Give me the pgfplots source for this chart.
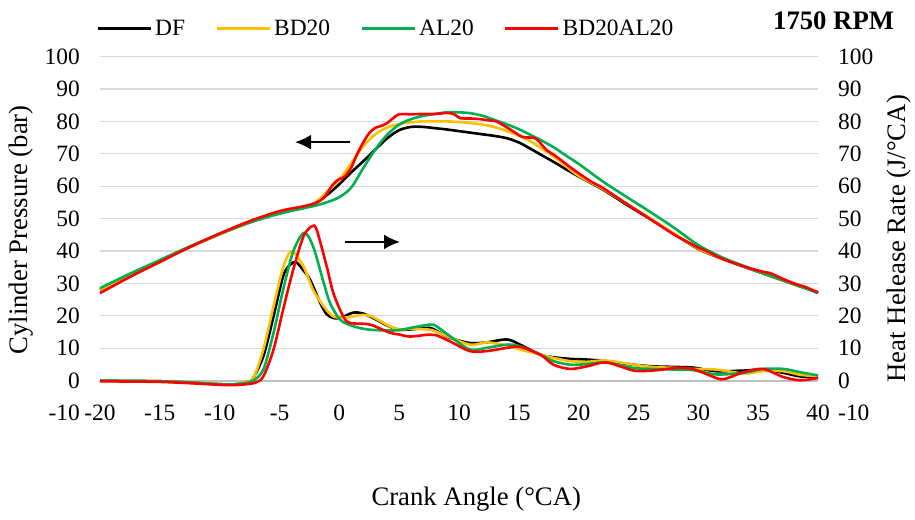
\documentclass[border=0pt]{standalone}
\usepackage{pgfplots}
\pgfplotsset{compat=1.18}
\usepackage{fontspec}
\setmainfont{Liberation Serif}
\usetikzlibrary{arrows.meta}
\definecolor{cDF}{RGB}{0,0,0}
\definecolor{cBD}{RGB}{255,192,0}
\definecolor{cAL}{RGB}{0,176,80}
\definecolor{cBA}{RGB}{255,0,0}
\definecolor{gridc}{RGB}{217,217,217}
\definecolor{zeroc}{RGB}{191,191,191}
\pgfplotsset{
 common/.style={
  at={(0,0)}, anchor=south west,
  x=11.967bp, y=3.24bp,
  xmin=-20, xmax=40, ymin=-10, ymax=100,
  enlargelimits=false,
  axis line style={draw=none},
  tick style={draw=none},
  /pgf/number format/assume math mode=true,
  tick label style={font=\fontsize{23.5}{28}\selectfont},
  clip=false,
 }
}
\begin{document}
\begin{tikzpicture}
\useasboundingbox (-100bp,-107bp) rectangle (815bp,413bp);
\begin{axis}[common,
 xtick={-20,-15,...,40},
 ytick={-10,0,...,100},
 xticklabel style={anchor=center, inner sep=0pt},
 yticklabel style={anchor=east, inner sep=0pt, xshift=-20bp},
 ytick pos=left, xtick pos=bottom,
 extra y ticks={10,20,...,100},
 extra y tick labels={},
 extra y tick style={grid=major},
 major grid style={gridc, line width=1.3bp},
 xlabel={Crank Angle (°CA)},
 ylabel={Cylinder Pressure (bar)},
 every axis x label/.style={at={(rel axis cs:0.524,0)}, anchor=center, yshift=-86bp, font=\fontsize{26.8}{32}\selectfont},
 every axis y label/.style={at={(rel axis cs:-0.110,0.514)}, rotate=90, anchor=center, font=\fontsize{26.8}{32}\selectfont},
 legend columns=4,
 legend style={at={(axis cs:-20.33,108.6)}, anchor=west, draw=none, fill=none, inner sep=0pt,
   font=\fontsize{23.5}{28}\selectfont,
   /tikz/every odd column/.append style={column sep=2bp},
   /tikz/every even column/.append style={column sep=29bp},
   nodes={inner sep=1bp}},
 legend image code/.code={\draw[#1, line width=3bp] (0bp,0bp) -- (53bp,0bp);},
]
\draw[zeroc, line width=1.8bp] (axis cs:-20,0) -- (axis cs:40,0);
% Cylinder pressure
\addplot[cDF, line width=2.6bp, smooth] coordinates {
(-20,28) (-17.5,32.5) (-15,36.9) (-12.5,41.2) (-10,45.2) (-7.5,48.8) (-5,51.8) (-3,53.3) (-2,54.8)
(-1,57.4) (0,60.6) (1,64.3) (2,67.7) (3,71.3) (4,74.8) (5,77.3) (6,78.3) (7,78.3) (8,77.9) (9,77.5)
(10,77.0) (11,76.5) (12,76.0) (13,75.5) (14,74.8) (15,73.5) (16,71.5) (17,69.4) (18,67.3) (19,65.1)
(20,63.0) (22,59.0) (24,54.3) (26,49.8) (28,45.2) (30,40.6) (32,37.6) (34,34.9) (36,32.3) (38,29.7) (40,27.2)};
\addlegendentry{DF}
\addplot[cBD, line width=2.6bp, smooth] coordinates {
(-20,28) (-17.5,32.5) (-15,36.9) (-12.5,41.2) (-10,45.2) (-7.5,48.8) (-5,51.8) (-3,53.4) (-2,55.0)
(-1,58.4) (0,62.0) (1,67.1) (2,72.3) (3,76.0) (4,78.1) (5,79.2) (6,79.7) (7,80.0) (8,80.0) (9,80.0)
(10,79.8) (11,79.5) (12,79.0) (13,78.2) (14,77.0) (15,75.6) (16,73.8) (17,71.4) (18,68.9) (19,66.0)
(20,63.2) (22,59.2) (24,54.6) (26,50.0) (28,45.3) (30,40.7) (32,37.7) (34,35.0) (36,32.4) (38,29.8) (40,27.2)};
\addlegendentry{BD20}
\addplot[cAL, line width=2.6bp, smooth] coordinates {
(-20,28.5) (-17.5,33) (-15,37.2) (-12.5,41.4) (-10,45.3) (-7.5,48.8) (-5,51.5) (-3,53.2) (-2,54.0)
(-1,55.1) (0,56.6) (1,59.6) (2,65.6) (3,71.3) (4,75.9) (5,79.0) (6,80.7) (7,81.7) (8,82.3) (9,82.8)
(10,82.8) (11,82.5) (12,81.7) (13,80.4) (14,79.1) (15,77.6) (16,75.8) (17,73.9) (18,71.8) (19,69.3)
(20,66.9) (22,61.5) (24,56.7) (26,52.0) (28,47.1) (30,41.8) (32,38.0) (34,35.1) (36,32.4) (38,29.8) (40,27.0)};
\addlegendentry{AL20}
\addplot[cBA, line width=2.6bp, smooth] coordinates {
(-20,27) (-17.5,32) (-15,36.6) (-12.5,41.2) (-10,45.4) (-7.5,49.2) (-5,52.3) (-3,53.8) (-2,54.8)
(-1.3,56.4) (-0.6,60.2) (-0.1,62.0) (0.3,62.6) (0.6,63.6) (1,65.8) (1.5,70) (2,73.5) (2.5,76.4) (3,78)
(3.5,78.6) (4,79.5) (4.5,81) (5,82.2) (6,82.2) (7,82.3) (8,82.3) (9,82.6) (9.6,82.2) (10.1,81.0) (11,80.9)
(11.75,80.7) (12.5,80.3) (13.1,80.0) (13.8,78.6) (14.5,77.0) (15.3,75.2) (16,75.0) (16.5,74.5) (17.3,71.2)
(18,69.5) (19.5,65.3) (21,61.5) (22,59.5) (24,54.6) (26,49.8) (28,45.0) (29,43.0) (30,41.0) (30.5,40.3)
(32,37.6) (34,35.0) (35.5,33.5) (36,33.2) (37,31.5) (38,30.0) (39,28.8) (40,27.2)};
\addlegendentry{BD20AL20}
% Heat release rate
\addplot[cDF, line width=2.6bp, smooth, forget plot] coordinates {
(-20,0) (-17.5,-0.1) (-15,-0.2) (-12.5,-0.6) (-10,-1.1) (-9,-1.2) (-8,-0.8) (-7.3,0.3) (-6.35,7.5)
(-5.5,19.8) (-4.7,32.2) (-4.1,35.8) (-3.6,36.5) (-3,34) (-2.45,31.2) (-1.6,24) (-1.06,20.5) (-0.5,19.3)
(0,19.3) (0.5,20) (1.2,21) (2,20.7) (3.1,18.8) (4,17) (5,15.7) (6,15.8) (7.5,16.3) (8.3,15.0) (9.25,13.2)
(10.9,11.6) (12.3,11.8) (14,12.7) (15.1,11.1) (16.8,8) (17.9,7.2) (19.3,6.7) (20.7,6.5) (22.3,6) (24.6,4.9)
(26.2,4.4) (28.2,4.2) (29.6,4.0) (31.5,2.9) (33.8,3.1) (35.4,3.4) (37.1,2.4) (38.5,1.3) (40,1.2)};
\addplot[cBD, line width=2.6bp, smooth, forget plot] coordinates {
(-20,0) (-17.5,-0.1) (-15,-0.2) (-12.5,-0.6) (-10,-1.1) (-9,-1.2) (-8,-0.6) (-7.2,0.8) (-6.35,9.6)
(-5.5,22.9) (-4.7,34.8) (-4,39.9) (-3,35.3) (-2.2,28) (-1.3,22.9) (-0.5,19.8) (0.6,19.5) (2,20.3)
(2.8,19.6) (4.2,16.8) (5.07,15.7) (6,16) (7.58,15.7) (8.5,14.5) (10.9,11.1) (12.3,11.8) (14,10.8)
(15.1,9.6) (16.8,8) (17.9,7) (19.3,6) (20.7,5.8) (22.3,6.2) (24.6,4.9) (26.2,4.2) (28.2,3.9) (29.6,3.6)
(31.5,3.4) (33.8,2.2) (35.4,2.9) (37.1,2.9) (38.5,1.8) (40,1.3)};
\addplot[cAL, line width=2.6bp, smooth, forget plot] coordinates {
(-20,0) (-17.5,-0.1) (-15,-0.2) (-12.5,-0.6) (-10,-1.1) (-9,-1.2) (-8,-0.8) (-7.2,0) (-6.35,3.4)
(-5.5,14.7) (-4.7,28) (-3.85,39.9) (-2.95,45.6) (-2.2,41.5) (-1.3,30.1) (-0.78,24) (0.06,18.8) (1.15,16.8)
(2.55,15.7) (4.8,15.5) (6,16.3) (7.58,17.3) (8.1,16.8) (9.25,13.7) (10.9,9.6) (12.3,10.1) (14,11.1)
(15.1,10.6) (16.8,8) (17.9,6) (19.3,4.9) (20.7,5.1) (22.3,5.6) (24.6,3.9) (26.2,3.6) (28.2,3.4) (29.6,3.2)
(31.5,1.9) (33.8,2.4) (35.4,3.6) (37.1,3.6) (38.5,2.6) (40,1.6)};
\addplot[cBA, line width=2.6bp, smooth, forget plot] coordinates {
(-20,-0.2) (-17.5,-0.3) (-15,-0.4) (-12.5,-0.8) (-10,-1.3) (-9,-1.4) (-8,-1.2) (-7,-0.6) (-6.35,1.3)
(-5.5,9.6) (-4.7,21.9) (-3.85,34.3) (-3.0,44.5) (-2.3,47.6) (-1.9,46.6) (-1.06,35.3) (-0.5,27) (0.33,19.8)
(0.9,17.8) (2.55,17.3) (4.2,14.8) (5.07,14.2) (5.9,13.6) (7.5,14.2) (8.1,14) (9.25,12.1) (10.9,9.1)
(12.3,9.1) (14,10.1) (15.1,10.4) (16.8,8) (17.9,4.9) (19.3,3.6) (20.7,4.4) (22.3,5.6) (24.6,3.1)
(26.2,3.1) (28.2,3.9) (29.6,3.5) (31.5,0.8) (32.2,0.5) (33.8,2.6) (35.4,3.6) (37.1,1.1) (38.5,0.1) (40,0.8)};
% arrows
\draw[-{Latex[length=16bp,width=15bp]}, line width=2bp] (axis cs:0.89,73.6) -- (axis cs:-3.7,73.6);
\draw[-{Latex[length=16bp,width=15bp]}, line width=2bp] (axis cs:0.47,42.8) -- (axis cs:5.07,42.8);
\node[font=\bfseries\fontsize{26.8}{32}\selectfont, anchor=center] at (axis cs:41.3,111.1) {1750 RPM};
\end{axis}
\begin{axis}[common,
 xtick=\empty,
 ytick={-10,0,...,100},
 yticklabel pos=right, ytick pos=right,
 yticklabel style={anchor=west, inner sep=0pt, xshift=20bp},
 ylabel={Heat Helease Rate (J/°CA)},
 every axis y label/.style={at={(rel axis cs:1.113,0.489)}, rotate=90, anchor=center, font=\fontsize{26.8}{32}\selectfont},
]
\end{axis}
\end{tikzpicture}
\end{document}
